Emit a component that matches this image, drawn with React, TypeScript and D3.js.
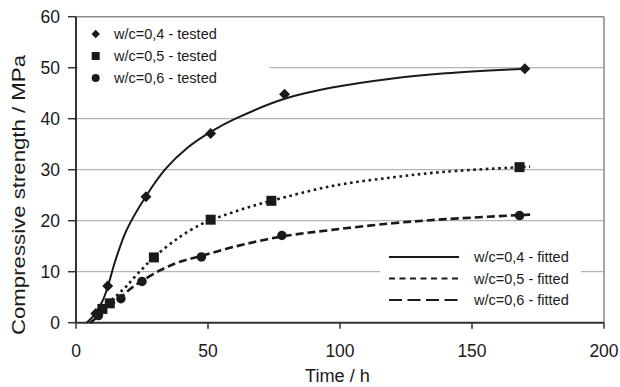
import React from "react";
import * as d3 from "d3";

// Measured compressive strength (time in h, strength in MPa)
const tested04: [number, number][] = [[7.5, 1.8], [12, 7.2], [26.5, 24.7], [51, 37.1], [79, 44.8], [170, 49.8]];
const tested05: [number, number][] = [[10, 2.7], [12.8, 3.8], [29.5, 12.8], [51, 20.2], [74, 23.9], [168, 30.5]];
const tested06: [number, number][] = [[8.5, 1.4], [17, 4.7], [25, 8.1], [47.5, 12.9], [78, 17.1], [168, 21.0]];

// Fitted strength development curves
const fitted04: [number, number][] = [[4, 0], [7, 1.6], [10, 4.2], [12, 7], [14.8, 12], [19.2, 18.2], [26.5, 24.8], [34, 30.2], [42, 34.2], [51, 37.4], [60, 39.9], [79, 43.9], [97, 46.1], [120, 47.9], [140, 48.9], [170, 49.8]];
const fitted05: [number, number][] = [[5.5, 0], [8, 1.3], [10, 2.6], [13, 4.2], [16, 5.6], [19, 7.1], [23, 9.4], [29.5, 12.8], [39, 16.7], [47, 19.2], [51, 20.1], [62, 22.1], [74, 23.9], [97, 26.8], [120, 28.5], [140, 29.6], [172, 30.6]];
const fitted06: [number, number][] = [[5.5, 0], [9, 1.6], [12, 3], [17, 5], [21, 6.8], [25, 8.2], [32, 10.3], [39, 11.9], [47.5, 13.1], [60, 14.9], [78, 16.9], [97, 18.2], [120, 19.5], [140, 20.3], [172, 21.2]];

const xTicks = [0, 50, 100, 150, 200];
const yTicks = [0, 10, 20, 30, 40, 50, 60];
const testedLabels = ["w/c=0,4 - tested", "w/c=0,5 - tested", "w/c=0,6 - tested"];
const fittedLabels = ["w/c=0,4 - fitted", "w/c=0,5 - fitted", "w/c=0,6 - fitted"];

const FONT = "Arial, 'Liberation Sans', sans-serif";
const INK = "#1a1a1a";

// kind 0 = diamond, 1 = square, 2 = circle; s = overall width
function Marker({ kind, x, y, s }: { kind: number; x: number; y: number; s: number }) {
  if (kind === 0) {
    const r = s / 2;
    return <path d={`M${x},${y - r}L${x + r},${y}L${x},${y + r}L${x - r},${y}Z`} fill={INK} />;
  }
  if (kind === 1) {
    return <rect x={x - s / 2} y={y - s / 2} width={s} height={s} fill={INK} />;
  }
  return <circle cx={x} cy={y} r={s / 2} fill={INK} />;
}

export default function App() {
  const x = d3.scaleLinear().domain([0, 200]).range([76, 604]);
  const y = d3.scaleLinear().domain([0, 60]).range([322.7, 16.7]);
  const line = d3
    .line<[number, number]>()
    .x((d) => x(d[0]))
    .y((d) => y(d[1]))
    .curve(d3.curveCatmullRom.alpha(0.5));

  const fittedStyles = [
    { dash: "none", width: 2, legendDash: "none" },
    { dash: "2.6,3.6", width: 2.6, legendDash: "6,4.5" },
    { dash: "8,4", width: 2.6, legendDash: "13,5.5" },
  ];
  const fitted = [fitted04, fitted05, fitted06];
  const tested = [tested04, tested05, tested06];
  const markerSize = [11, 10, 9.5];
  const legendMarkerSize = [8.5, 8, 8];

  const [x0, x1] = x.range();
  const [yb, yt] = y.range();

  return (
    <svg
      width={620}
      height={387}
      style={{ position: "absolute", left: 0, top: 0, background: "#fff" }}
      fontFamily={FONT}
    >
      {/* horizontal gridlines */}
      {yTicks.slice(1, -1).map((t) => (
        <line key={t} x1={x0} x2={x1} y1={y(t)} y2={y(t)} stroke="#b4b4b4" strokeWidth={1.2} />
      ))}
      {/* plot frame: top and right */}
      <line x1={x0} x2={x1} y1={yt} y2={yt} stroke="#8a8a8a" strokeWidth={1.5} />
      <line x1={x1} x2={x1} y1={yt} y2={yb} stroke="#8a8a8a" strokeWidth={1.5} />

      {/* legend backgrounds */}
      <rect x={78} y={22} width={192} height={66} fill="#fff" />
      <rect x={380} y={234} width={201} height={84} fill="#fff" />

      {/* axes */}
      <line x1={x0} x2={x0} y1={yt} y2={yb} stroke="#333" strokeWidth={2} />
      <line x1={x0} x2={x1} y1={yb} y2={yb} stroke="#333" strokeWidth={2} />
      {yTicks.map((t) => (
        <g key={t}>
          <line x1={68} x2={x0} y1={y(t)} y2={y(t)} stroke="#333" strokeWidth={1.5} />
          <text x={60} y={y(t)} dy="0.36em" textAnchor="end" fontSize={17.5} fill={INK}>
            {t}
          </text>
        </g>
      ))}
      {xTicks.map((t) => (
        <g key={t}>
          <line x1={x(t)} x2={x(t)} y1={yb} y2={yb + 6} stroke="#333" strokeWidth={1.5} />
          <text x={x(t)} y={357} textAnchor="middle" fontSize={17.5} fill={INK}>
            {t}
          </text>
        </g>
      ))}

      {/* axis titles */}
      <text x={337.5} y={382} textAnchor="middle" fontSize={18} fill={INK} textLength={65} lengthAdjust="spacingAndGlyphs">
        Time / h
      </text>
      <text
        transform={`translate(25,195) rotate(-90)`}
        textAnchor="middle"
        fontSize={19}
        fill={INK}
        textLength={280}
        lengthAdjust="spacingAndGlyphs"
      >
        Compressive strength / MPa
      </text>

      {/* fitted curves */}
      {fitted.map((pts, i) => (
        <path
          key={i}
          d={line(pts) ?? ""}
          fill="none"
          stroke={INK}
          strokeWidth={fittedStyles[i].width}
          strokeDasharray={fittedStyles[i].dash}
        />
      ))}

      {/* tested points */}
      {tested.map((pts, i) =>
        pts.map((p, j) => <Marker key={`${i}-${j}`} kind={i} x={x(p[0])} y={y(p[1])} s={markerSize[i]} />)
      )}

      {/* legend: tested */}
      {testedLabels.map((label, i) => {
        const ry = 34 + i * 22;
        return (
          <g key={label}>
            <Marker kind={i} x={95.7} y={ry} s={legendMarkerSize[i]} />
            <text x={114} y={ry} dy="0.35em" fontSize={14.5} fill={INK}>
              {label}
            </text>
          </g>
        );
      })}

      {/* legend: fitted */}
      {fittedLabels.map((label, i) => {
        const ry = 257 + i * 21.5;
        return (
          <g key={label}>
            <line
              x1={389}
              x2={459}
              y1={ry}
              y2={ry}
              stroke={INK}
              strokeWidth={2}
              strokeDasharray={fittedStyles[i].legendDash}
            />
            <text x={474} y={ry} dy="0.35em" fontSize={14.5} fill={INK}>
              {label}
            </text>
          </g>
        );
      })}
    </svg>
  );
}
